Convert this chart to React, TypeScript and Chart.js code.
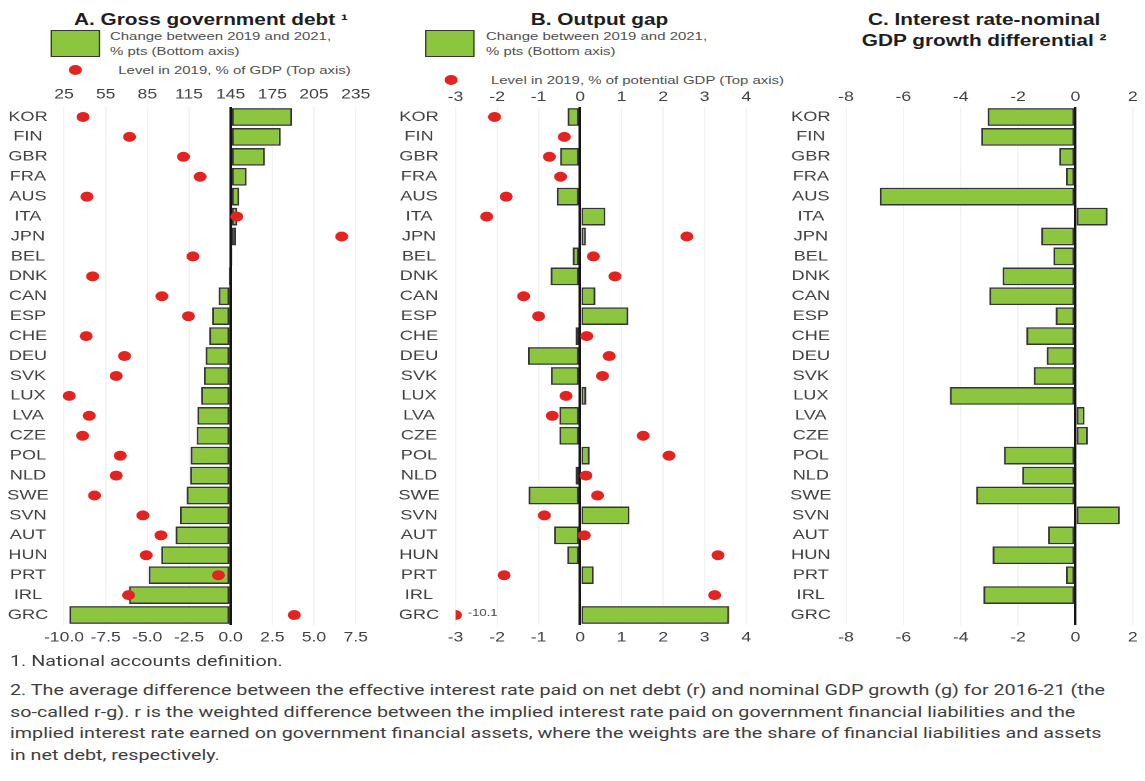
import React, { useEffect, useRef } from 'react';
import { Chart, registerables } from 'chart.js';

Chart.register(...registerables);

// ---------------- data ----------------
const categories = ['KOR', 'FIN', 'GBR', 'FRA', 'AUS', 'ITA', 'JPN', 'BEL', 'DNK', 'CAN', 'ESP', 'CHE', 'DEU',
  'SVK', 'LUX', 'LVA', 'CZE', 'POL', 'NLD', 'SWE', 'SVN', 'AUT', 'HUN', 'PRT', 'IRL', 'GRC'];

// A. Gross government debt
const debtChange = [3.68, 3.0, 2.06, 0.96, 0.52, 0.4, 0.32, 0.1, -0.12, -0.72, -1.12, -1.28, -1.5,
  -1.6, -1.78, -2.0, -2.04, -2.4, -2.44, -2.64, -3.04, -3.3, -4.16, -4.92, -6.1, -9.68];
const debtLevel = [38.7, 72.2, 111.0, 123.0, 41.5, 149.4, 224.9, 117.8, 45.6, 95.5, 114.6, 41.0, 68.6,
  62.6, 28.8, 43.2, 38.4, 65.5, 62.6, 47.0, 81.8, 94.8, 84.2, 136.2, 71.5, 190.8];

// B. Output gap
const gapChange = [-0.3, 0.0, -0.48, 0.03, -0.56, 0.61, 0.14, -0.18, -0.71, 0.37, 1.16, -0.11, -1.26,
  -0.7, 0.15, -0.5, -0.5, 0.23, -0.11, -1.24, 1.19, -0.63, -0.31, 0.33, -0.02, 3.59];
const gapLevel = [-2.06, -0.38, -0.74, -0.47, -1.78, -2.25, 2.57, 0.32, 0.84, -1.36, -1.0, 0.16, 0.7,
  0.54, -0.34, -0.67, 1.52, 2.14, 0.14, 0.42, -0.86, 0.1, 3.32, -1.83, 3.24, -10.1];

// C. Interest rate - nominal GDP growth differential
const rgDiff: (number | null)[] = [-3.06, -3.29, -0.57, -0.33, -6.82, 1.12, -1.19, -0.77, -2.54, -3.0, -0.69,
  -1.71, -1.0, -1.45, -4.38, 0.32, 0.44, -2.49, -1.86, -3.46, 1.55, -0.96, -2.89, -0.33, -3.21, null];

// axis ranges (tick labels)
const axisA_bottom = { min: -10, max: 7.5, step: 2.5, decimals: 1 };
const axisA_top = { min: 25, max: 235, step: 30, decimals: 0 };
const axisB_bottom = { min: -3, max: 4, step: 1, decimals: 0 };
const axisB_top = { min: -3, max: 4, step: 1, decimals: 0 };
const axisC_bottom = { min: -8, max: 2, step: 2, decimals: 0 };
const axisC_top = { min: -8, max: 2, step: 2, decimals: 0 };

const titleA = 'A. Gross government debt ¹';
const titleB = 'B. Output gap';
const titleC1 = 'C. Interest rate-nominal';
const titleC2 = 'GDP growth differential ²';
const legendBar = ['Change between 2019 and 2021,', '% pts (Bottom axis)'];
const legendDotA = 'Level in 2019, % of GDP (Top axis)';
const legendDotB = 'Level in 2019, % of potential GDP (Top axis)';
const note1 = '1. National accounts definition.';
const note2 = [
  '2. The average difference between the effective interest rate paid on net debt (r) and nominal GDP growth (g) for 2016-21 (the',
  'so-called r-g). r is the weighted difference between the implied interest rate paid on government financial liabilities and the',
  'implied interest rate earned on government financial assets, where the weights are the share of financial liabilities and assets',
  'in net debt, respectively.',
];

// ---------------- style ----------------
const S = 1.3; // horizontal stretch of the whole figure
const GREEN = '#8cc63e';
const BORDER = '#353535';
const RED = '#e3231f';
const TEXT = '#404040';
const FONT = "'Liberation Sans', Arial, Helvetica, sans-serif";
const TICK_SIZE = 13.5;
const CAT_SIZE = 14;

type Axis = { min: number; max: number; step: number; decimals: number };

type PanelProps = {
  left: number;
  width: number;
  yWidth: number;
  rightPad: number;
  labelPad: number;
  topPad: number;
  bars: (number | null)[];
  dots?: number[];
  bottom: Axis;
  top: Axis;
  clipDots?: boolean;
  annotate?: boolean;
};

const CANVAS_TOP = 78;
const CANVAS_H = 574;

function Panel(p: PanelProps) {
  const ref = useRef<HTMLCanvasElement>(null);
  useEffect(() => {
    const datasets: any[] = [
      {
        type: 'bar',
        indexAxis: 'y',
        data: p.bars,
        backgroundColor: GREEN,
        borderColor: BORDER,
        borderWidth: 1.5,
        borderSkipped: false,
        barPercentage: 0.89,
        categoryPercentage: 1,
        xAxisID: 'x',
        yAxisID: 'y',
        order: 2,
      },
    ];
    if (p.dots) {
      const tmin = p.top.min;
      datasets.push({
        type: 'line',
        indexAxis: 'y',
        data: p.dots.map((v) => Math.max(v, tmin)),
        showLine: false,
        pointRadius: 5,
        pointHoverRadius: 5,
        pointBackgroundColor: RED,
        pointBorderColor: RED,
        pointBorderWidth: 0,
        xAxisID: 'x2',
        yAxisID: 'y',
        clip: p.clipDots ? 0 : false,
        order: 1,
      });
    }
    const tickFont = { family: FONT, size: TICK_SIZE };
    const fmt = (d: number) => (v: any) => Number(v).toFixed(d);
    const annot = {
      id: 'annot',
      afterDatasetsDraw(chart: any) {
        if (!p.annotate || !p.dots) return;
        const meta = chart.getDatasetMeta(1);
        const ctx = chart.ctx;
        p.dots.forEach((v, i) => {
          if (v < p.top.min) {
            const pt = meta.data[i];
            ctx.save();
            ctx.font = `10px ${FONT}`;
            ctx.fillStyle = '#444';
            ctx.textBaseline = 'middle';
            ctx.textAlign = 'left';
            ctx.fillText(String(v), pt.x + 9.5, pt.y - 2);
            ctx.restore();
          }
        });
      },
    };
    const chart = new Chart(ref.current as HTMLCanvasElement, {
      type: 'bar',
      data: { labels: categories, datasets },
      options: {
        indexAxis: 'y',
        animation: false,
        responsive: true,
        maintainAspectRatio: false,
        devicePixelRatio: 2,
        events: [],
        layout: { padding: { left: 0, right: p.rightPad, top: 0, bottom: 0 } },
        plugins: { legend: { display: false }, tooltip: { enabled: false } },
        scales: {
          y: {
            type: 'category',
            position: 'left',
            grid: { display: false, drawTicks: false },
            border: { display: false },
            ticks: {
              color: TEXT,
              font: { family: FONT, size: CAT_SIZE },
              crossAlign: 'center',
              padding: p.labelPad,
              autoSkip: false,
            },
            afterFit: (s: any) => {
              s.width = p.yWidth;
            },
          },
          x: {
            type: 'linear',
            position: 'bottom',
            min: p.bottom.min,
            max: p.bottom.max,
            z: 1,
            ticks: {
              stepSize: p.bottom.step,
              callback: fmt(p.bottom.decimals),
              color: TEXT,
              font: tickFont,
              padding: 4.9,
              maxRotation: 0,
              minRotation: 0,
              autoSkip: false,
            },
            grid: {
              drawTicks: false,
              color: (c: any) => (c.tick && c.tick.value === 0 ? '#151515' : 'rgba(236,236,236,0.7)'),
              lineWidth: (c: any) => (c.tick && c.tick.value === 0 ? 2 : 1),
            },
            border: { display: false },
            afterFit: (s: any) => {
              s.height = 27;
            },
          },
          x2: {
            type: 'linear',
            position: 'top',
            min: p.top.min,
            max: p.top.max,
            ticks: {
              stepSize: p.top.step,
              callback: fmt(p.top.decimals),
              color: TEXT,
              font: tickFont,
              padding: p.topPad,
              maxRotation: 0,
              minRotation: 0,
              autoSkip: false,
            },
            grid: { display: false, drawTicks: false },
            border: { display: false },
            afterFit: (s: any) => {
              s.height = 107 - CANVAS_TOP;
            },
          },
        },
      } as any,
      plugins: [annot],
    });
    return () => chart.destroy();
  }, []);
  return (
    <div style={{ position: 'absolute', left: p.left, top: CANVAS_TOP, width: p.width, height: CANVAS_H }}>
      <canvas ref={ref} />
    </div>
  );
}

const abs = (o: React.CSSProperties): React.CSSProperties => ({ position: 'absolute', ...o });

function LegendBox({ left, top }: { left: number; top: number }) {
  return (
    <div
      style={abs({
        left,
        top,
        width: 37.5,
        height: 26.7,
        background: GREEN,
        border: `1.5px solid ${BORDER}`,
        boxSizing: 'border-box',
      })}
    />
  );
}

function LegendDot({ cx, cy }: { cx: number; cy: number }) {
  return <div style={abs({ left: cx - 5, top: cy - 5, width: 10, height: 10, borderRadius: '50%', background: RED })} />;
}

const legendText: React.CSSProperties = {
  fontFamily: FONT,
  fontSize: 11.5,
  lineHeight: '15px',
  color: '#505050',
  whiteSpace: 'nowrap',
};

const titleStyle: React.CSSProperties = {
  fontFamily: FONT,
  fontSize: 16,
  fontWeight: 'bold',
  color: '#1e1e1e',
  whiteSpace: 'nowrap',
  textAlign: 'center',
};

const noteStyle: React.CSSProperties = {
  fontFamily: "Roboto, 'Noto Sans', sans-serif",
  fontSize: 15.2,
  lineHeight: '21.5px',
  color: '#3e3e3e',
  whiteSpace: 'nowrap',
};

export default function App() {
  useEffect(() => {
    document.documentElement.style.overflow = 'hidden';
    document.body.style.margin = '0';
  }, []);
  return (
    <div
      style={{
        position: 'absolute',
        left: 0,
        top: 0,
        width: 880,
        height: 781,
        transform: `scaleX(${S})`,
        transformOrigin: '0 0',
        background: '#fff',
      }}
    >
      {/* titles */}
      <div style={abs({ ...titleStyle, left: 162.3 - 150, width: 300, top: 10, lineHeight: '20px' })}>{titleA}</div>
      <div style={abs({ ...titleStyle, left: 461.2 - 150, width: 300, top: 9.5, lineHeight: '20px' })}>{titleB}</div>
      <div style={abs({ ...titleStyle, left: 757 - 150, width: 300, top: 9, lineHeight: '21px' })}>
        {titleC1}
        <br />
        {titleC2}
      </div>

      {/* legend A */}
      <LegendBox left={39} top={30} />
      <div style={abs({ ...legendText, left: 84.6, top: 29 })}>
        {legendBar[0]}
        <br />
        {legendBar[1]}
      </div>
      <LegendDot cx={58} cy={70} />
      <div style={abs({ ...legendText, left: 91, top: 62.5 })}>{legendDotA}</div>

      {/* legend B */}
      <LegendBox left={327} top={30} />
      <div style={abs({ ...legendText, left: 373.8, top: 29 })}>
        {legendBar[0]}
        <br />
        {legendBar[1]}
      </div>
      <LegendDot cx={347.2} cy={80} />
      <div style={abs({ ...legendText, left: 377.7, top: 73 })}>{legendDotB}</div>

      {/* charts */}
      <Panel
        left={0}
        width={300}
        yWidth={49.2}
        rightPad={26.4}
        labelPad={11.75}
        topPad={3.9}
        bars={debtChange}
        dots={debtLevel}
        bottom={axisA_bottom}
        top={axisA_top}
      />
      <Panel
        left={300}
        width={300}
        yWidth={50.4}
        rightPad={26}
        labelPad={12.15}
        topPad={1.4}
        bars={gapChange}
        dots={gapLevel}
        bottom={axisB_bottom}
        top={axisB_top}
        clipDots
        annotate
      />
      <Panel
        left={600}
        width={280}
        yWidth={50.8}
        rightPad={6.4}
        labelPad={11.15}
        topPad={1.4}
        bars={rgDiff}
        bottom={axisC_bottom}
        top={axisC_top}
      />

      {/* footnotes */}
      <div style={abs({ ...noteStyle, left: 7.7, top: 651 })}>{note1}</div>
      <div style={abs({ ...noteStyle, left: 7.7, top: 680 })}>
        {note2.map((l, i) => (
          <div key={i}>{l}</div>
        ))}
      </div>
    </div>
  );
}
